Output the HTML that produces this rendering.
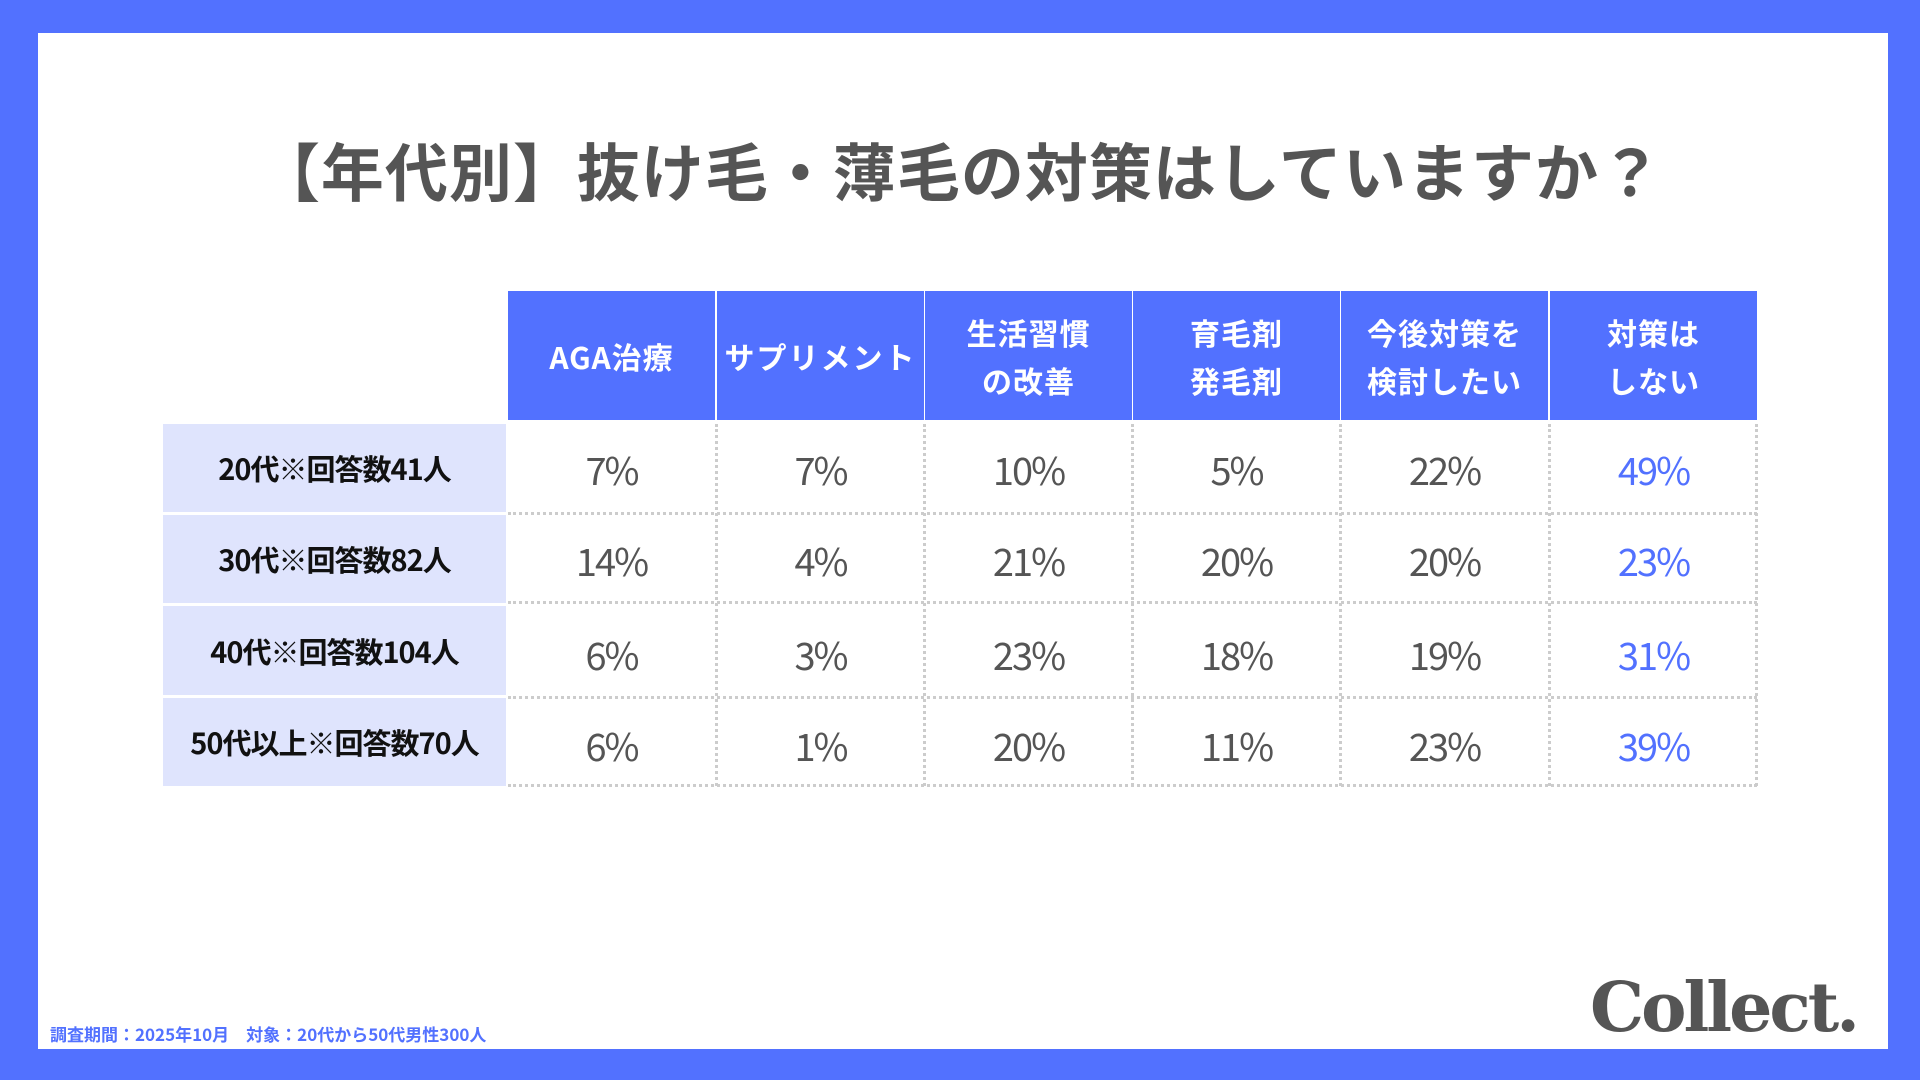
<!DOCTYPE html>
<html><head><meta charset="utf-8"><style>
body{margin:0;width:1920px;height:1080px;background:#5271ff;position:relative;overflow:hidden;font-family:"Liberation Sans","Noto Sans CJK JP",sans-serif}
.panel{position:absolute;left:38px;top:33px;width:1850px;height:1016px;background:#fff}
.title{position:absolute;left:0;width:1920px;top:124px;text-align:center;font-size:63px;font-weight:bold;color:#555;font-family:"Noto Sans CJK JP",sans-serif;letter-spacing:1px}
.h{position:absolute;top:291px;height:129px;width:207px;background:#5271ff;color:#fff;font-weight:bold;font-size:30px;display:flex;align-items:center;justify-content:center;text-align:center;line-height:1.6;font-family:"Noto Sans CJK JP",sans-serif;letter-spacing:1px;white-space:nowrap}
.l{position:absolute;left:163px;width:343px;background:#dfe4fd;display:flex;align-items:center;justify-content:center;font-weight:bold;font-size:29px;color:#111;font-family:"Noto Sans CJK JP",sans-serif;letter-spacing:-1px}
.c{position:absolute;width:207px;display:flex;align-items:center;justify-content:center;font-size:38px;color:#555;font-family:"Noto Sans CJK JP",sans-serif;letter-spacing:-2px}
.b{color:#5271ff}
.hl{position:absolute;left:508px;width:1249px;border-top:3px dotted #ccc}
.vl{position:absolute;top:424px;height:362px;border-left:3px dotted #ccc}
.foot{position:absolute;left:50px;top:1021px;font-size:17px;color:#5271ff;font-weight:bold;font-family:"Noto Sans CJK JP",sans-serif}
.logo{position:absolute;left:1590px;top:968px;font-size:68px;font-weight:bold;color:#555;font-family:"DejaVu Serif",serif;letter-spacing:-3px}
</style></head><body>
<div class="panel"></div>
<div class="title">【年代別】抜け毛・薄毛の対策はしていますか？</div>
<div class="h" style="left:508px">AGA治療</div>
<div class="h" style="left:717px;letter-spacing:2px">サプリメント</div>
<div class="h" style="left:925px">生活習慣<br>の改善</div>
<div class="h" style="left:1133px">育毛剤<br>発毛剤</div>
<div class="h" style="left:1341px">今後対策を<br>検討したい</div>
<div class="h" style="left:1550px">対策は<br>しない</div>

<div class="l" style="top:424px;height:88px">20代※回答数41人</div>
<div class="l" style="top:515px;height:88px">30代※回答数82人</div>
<div class="l" style="top:606px;height:89px">40代※回答数104人</div>
<div class="l" style="top:698px;height:88px">50代以上※回答数70人</div>

<div class="hl" style="top:512px"></div>
<div class="hl" style="top:601px"></div>
<div class="hl" style="top:696px"></div>
<div class="hl" style="top:784px"></div>
<div class="vl" style="left:715px"></div>
<div class="vl" style="left:923px"></div>
<div class="vl" style="left:1131px"></div>
<div class="vl" style="left:1339px"></div>
<div class="vl" style="left:1548px"></div>
<div class="vl" style="left:1755px"></div>

<div class="c" style="left:508px;top:424px;height:88px">7%</div>
<div class="c" style="left:717px;top:424px;height:88px">7%</div>
<div class="c" style="left:925px;top:424px;height:88px">10%</div>
<div class="c" style="left:1133px;top:424px;height:88px">5%</div>
<div class="c" style="left:1341px;top:424px;height:88px">22%</div>
<div class="c b" style="left:1550px;top:424px;height:88px">49%</div>

<div class="c" style="left:508px;top:515px;height:88px">14%</div>
<div class="c" style="left:717px;top:515px;height:88px">4%</div>
<div class="c" style="left:925px;top:515px;height:88px">21%</div>
<div class="c" style="left:1133px;top:515px;height:88px">20%</div>
<div class="c" style="left:1341px;top:515px;height:88px">20%</div>
<div class="c b" style="left:1550px;top:515px;height:88px">23%</div>

<div class="c" style="left:508px;top:609px;height:89px">6%</div>
<div class="c" style="left:717px;top:609px;height:89px">3%</div>
<div class="c" style="left:925px;top:609px;height:89px">23%</div>
<div class="c" style="left:1133px;top:609px;height:89px">18%</div>
<div class="c" style="left:1341px;top:609px;height:89px">19%</div>
<div class="c b" style="left:1550px;top:609px;height:89px">31%</div>

<div class="c" style="left:508px;top:700px;height:88px">6%</div>
<div class="c" style="left:717px;top:700px;height:88px">1%</div>
<div class="c" style="left:925px;top:700px;height:88px">20%</div>
<div class="c" style="left:1133px;top:700px;height:88px">11%</div>
<div class="c" style="left:1341px;top:700px;height:88px">23%</div>
<div class="c b" style="left:1550px;top:700px;height:88px">39%</div>

<div class="foot">調査期間：2025年10月　対象：20代から50代男性300人</div>
<div class="logo">Collect.</div>
</body></html>
